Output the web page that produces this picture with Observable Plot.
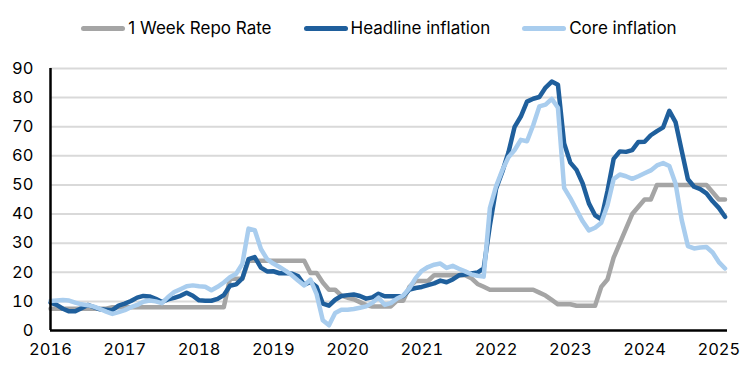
<!DOCTYPE html>
<html>
<head>
<meta charset="utf-8">
<script src="https://cdn.jsdelivr.net/npm/d3@7"></script>
<script src="https://cdn.jsdelivr.net/npm/@observablehq/plot@0.6"></script>
<style>
  html, body { margin: 0; padding: 0; background: #fff; }
  body { width: 750px; height: 375px; overflow: hidden; font-family: Inter, "Noto Sans", sans-serif; }
  #legend { height: 56px; display: flex; justify-content: center; align-items: center; gap: 32px; padding-left: 8px; box-sizing: border-box; font-size: 17px; color: #000; }
  .item { display: flex; align-items: center; }
  .sw { width: 44px; height: 5px; border-radius: 3px; margin-right: 3px; }
</style>
</head>
<body>
<div id="legend"></div>
<div id="chart"></div>
<script>
// ---- Data (monthly, Jan 2016 .. Feb 2025) ----
const startYear = 2016;
const tickYears = [2016, 2017, 2018, 2019, 2020, 2021, 2022, 2023, 2024, 2025];
const yTicks = [0, 10, 20, 30, 40, 50, 60, 70, 80, 90];
const seriesNames = ["1 Week Repo Rate", "Headline inflation", "Core inflation"];
const seriesColors = ["#a5a5a5", "#1f5f9c", "#a9cdee"];

const repoRate = [
  7.5, 7.5, 7.5, 7.5, 7.5, 7.5, 7.5, 7.5, 7.5, 7.5, 8, 8,
  8, 8, 8, 8, 8, 8, 8, 8, 8, 8, 8, 8,
  8, 8, 8, 8, 8, 17.75, 17.75, 17.75, 24, 24, 24, 24,
  24, 24, 24, 24, 24, 24, 19.75, 19.75, 16.5, 14, 14, 12,
  11.25, 10.75, 9.75, 8.75, 8.25, 8.25, 8.25, 8.25, 10.25, 10.25, 15, 17,
  17, 17, 19, 19, 19, 19, 19, 19, 18, 16, 15, 14,
  14, 14, 14, 14, 14, 14, 14, 13, 12, 10.5, 9, 9,
  9, 8.5, 8.5, 8.5, 8.5, 15, 17.5, 25, 30, 35, 40, 42.5,
  45, 45, 50, 50, 50, 50, 50, 50, 50, 50, 50, 47.5,
  45, 45
];

const headline = [
  9.58, 8.78, 7.46, 6.57, 6.58, 7.64, 8.79, 8.05, 7.28, 7.16, 7.00, 8.53,
  9.22, 10.13, 11.29, 11.87, 11.72, 10.90, 9.79, 10.68, 11.20, 11.90, 12.98, 11.92,
  10.35, 10.26, 10.23, 10.85, 12.15, 15.39, 15.85, 17.90, 24.52, 25.24, 21.62, 20.30,
  20.35, 19.67, 19.71, 19.50, 18.71, 15.72, 16.65, 15.01, 9.26, 8.55, 10.56, 11.84,
  12.15, 12.37, 11.86, 10.94, 11.39, 12.62, 11.76, 11.77, 11.75, 11.89, 14.03, 14.60,
  14.97, 15.61, 16.19, 17.14, 16.59, 17.53, 18.95, 19.25, 19.58, 19.89, 21.31, 36.08,
  48.69, 54.44, 61.14, 69.97, 73.50, 78.62, 79.60, 80.21, 83.45, 85.51, 84.39, 64.27,
  57.68, 55.18, 50.51, 43.68, 39.59, 38.21, 47.83, 58.94, 61.53, 61.36, 61.98, 64.77,
  64.86, 67.07, 68.50, 69.80, 75.45, 71.60, 61.78, 51.97, 49.38, 48.58, 47.09, 44.38,
  42.12, 39.05
];

const core = [
  10.1, 10.3, 10.5, 10.3, 9.6, 9.0, 8.7, 8.2, 7.4, 6.5, 5.7, 6.3,
  7.0, 8.0, 8.8, 9.9, 10.3, 10.0, 9.4, 11.5, 13.2, 14.2, 15.2, 15.5,
  15.2, 15.0, 13.8, 15.0, 16.5, 18.3, 19.5, 22.9, 35.0, 34.5, 28.0, 24.5,
  23.0, 21.8, 20.5, 19.0, 17.2, 15.5, 17.5, 12.5, 3.5, 1.8, 6.0, 7.1,
  7.1, 7.4, 7.8, 8.3, 9.5, 11.3, 8.8, 9.4, 11.0, 12.0, 14.5, 18.0,
  20.5, 21.8, 22.6, 23.0, 21.5, 22.2, 21.2, 20.3, 19.3, 18.8, 18.5, 42.0,
  49.5, 55.0, 59.5, 62.0, 65.5, 65.0, 70.5, 77.0, 77.6, 79.6, 76.5, 49.0,
  45.5, 41.5, 37.5, 34.4, 35.3, 37.0, 43.0, 52.0, 53.6, 53.0, 52.1, 53.0,
  54.0, 55.0, 56.7, 57.5, 56.5, 50.5, 38.0, 29.0, 28.2, 28.5, 28.7, 26.8,
  23.5, 21.3
];

// ---- Build table ----
const seriesValues = [repoRate, headline, core];
const rows = [];
seriesValues.forEach((vals, s) => {
  vals.forEach((v, i) => rows.push({ series: seriesNames[s], month: i, value: v }));
});
const xTicks = tickYears.map(y => (y - startYear) * 12);

// ---- Legend (HTML) ----
const legend = document.getElementById("legend");
seriesNames.forEach((name, s) => {
  const item = document.createElement("div");
  item.className = "item";
  const sw = document.createElement("span");
  sw.className = "sw";
  sw.style.background = seriesColors[s];
  const t = document.createElement("span");
  t.textContent = name;
  item.appendChild(sw);
  item.appendChild(t);
  legend.appendChild(item);
});

// ---- Chart ----
const chart = Plot.plot({
  width: 750,
  height: 319,
  marginTop: 12,
  marginBottom: 45,
  marginLeft: 50,
  marginRight: 23,
  style: { fontFamily: "Inter, 'Noto Sans', sans-serif", fontSize: "16.5px", color: "#000", background: "#fff" },
  x: { type: "linear", domain: [0, 109.4], tickSize: 0, label: null },
  y: { domain: [0, 90], tickSize: 0, label: null },
  color: { domain: seriesNames, range: seriesColors },
  marks: [
    Plot.gridY(yTicks.filter(d => d > 0), { stroke: "#d9d9d9", strokeOpacity: 1, strokeWidth: 2 }),
    Plot.axisY({ ticks: yTicks, tickSize: 0, tickPadding: 17, label: null }),
    Plot.axisX({ ticks: xTicks, tickFormat: d => String(startYear + d / 12), tickSize: 0, tickPadding: 13, label: null }),
    Plot.line(rows, {
      x: "month", y: "value", z: "series", stroke: "series",
      strokeWidth: 4.5, strokeLinejoin: "round", strokeLinecap: "round"
    }),
    Plot.ruleY([0], { stroke: "#000", strokeWidth: 2.5 }),
    Plot.ruleX([0], { y1: 0, y2: 90, stroke: "#000", strokeWidth: 2.5 })
  ]
});
document.getElementById("chart").appendChild(chart);
</script>
</body>
</html>
